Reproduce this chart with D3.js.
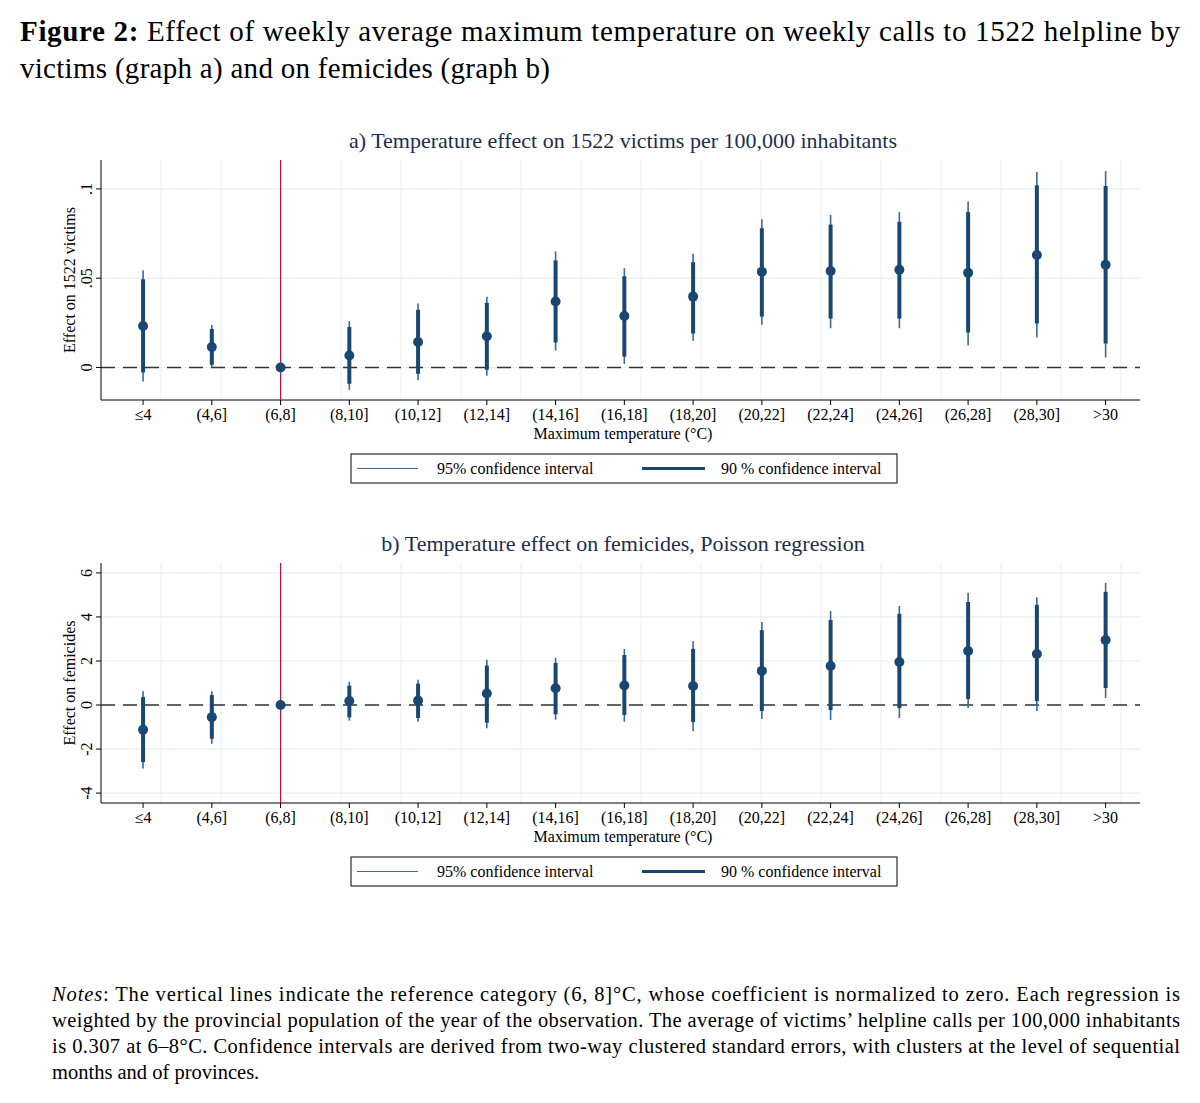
<!DOCTYPE html>
<html><head><meta charset="utf-8">
<script src="https://cdn.jsdelivr.net/npm/d3@7"></script>
<style>body{margin:0;background:#fff;font-family:"Liberation Serif","Times New Roman",serif}</style>
</head><body>
<svg id="c" width="1200" height="1103"></svg>
<script>
const categories=["≤4","(4,6]","(6,8]","(8,10]","(10,12]","(12,14]","(14,16]","(16,18]","(18,20]","(20,22]","(22,24]","(24,26]","(26,28]","(28,30]",">30"];
// Panel a
const aEst=[0.0232,0.0115,0,0.0067,0.0143,0.0175,0.037,0.0288,0.0397,0.0536,0.054,0.0547,0.053,0.063,0.0575];
const aLo90=[-0.0028,0.0015,0,-0.0091,-0.0035,-0.0013,0.014,0.0061,0.019,0.0285,0.0274,0.0274,0.0196,0.0246,0.0134];
const aHi90=[0.0494,0.0216,0,0.0227,0.0323,0.0362,0.060,0.0511,0.059,0.078,0.080,0.0816,0.087,0.102,0.1017];
const aLo95=[-0.0078,0.0002,0,-0.0125,-0.0072,-0.0046,0.0095,0.002,0.015,0.024,0.022,0.022,0.0123,0.0168,0.0056];
const aHi95=[0.0545,0.0238,0,0.026,0.0359,0.0396,0.065,0.0556,0.0637,0.083,0.0855,0.087,0.093,0.1095,0.11];
const aTicks=[0,0.05,0.1], aTickLabels=["0",".05",".1"];
// Panel b
const bEst=[-1.12,-0.55,0,0.18,0.2,0.52,0.76,0.89,0.86,1.55,1.77,1.95,2.45,2.32,2.95];
const bLo90=[-2.59,-1.53,0,-0.56,-0.59,-0.8,-0.42,-0.45,-0.77,-0.27,-0.23,-0.14,0.27,0.18,0.77];
const bHi90=[0.36,0.45,0,0.88,0.97,1.79,1.91,2.27,2.55,3.4,3.86,4.14,4.68,4.55,5.14];
const bLo95=[-2.88,-1.76,0,-0.71,-0.76,-1.06,-0.67,-0.76,-1.18,-0.64,-0.68,-0.59,-0.14,-0.27,0.32];
const bHi95=[0.62,0.62,0,1.06,1.15,2.06,2.15,2.55,2.9,3.77,4.27,4.5,5.1,4.9,5.55];
const bTicks=[-4,-2,0,2,4,6], bTickLabels=["-4","-2","0","2","4","6"];

const svg=d3.select("#c");
const navy="#1a476f";
const serif='"Liberation Serif","Times New Roman",serif';

// header
const h=svg.append("text").attr("x",20).attr("y",41).attr("font-size",29).attr("font-family",serif).attr("textLength",1160).attr("lengthAdjust","spacing");
h.append("tspan").attr("font-weight","bold").text("Figure 2:");
h.append("tspan").text(" Effect of weekly average maximum temperature on weekly calls to 1522 helpline by");
svg.append("text").attr("x",20).attr("y",78).attr("font-size",29).attr("font-family",serif).attr("textLength",530).attr("lengthAdjust","spacing").text("victims (graph a) and on femicides (graph b)");

function panel(cfg){
  const g=svg.append("g");
  const x=d3.scaleLinear().domain([0.49,15.5]).range([108,1140]);
  const y=d3.scaleLinear().domain(cfg.dom).range([cfg.bottom,cfg.top]);
  const L=101,R=1140;
  d3.range(17).forEach(k=>{const gx=161+k*60; if(gx<R) g.append("line").attr("x1",gx).attr("x2",gx).attr("y1",cfg.top).attr("y2",cfg.bottom).attr("stroke","#e6eff1").attr("stroke-width",1);});
  cfg.ticks.forEach(t=>g.append("line").attr("x1",L).attr("x2",R).attr("y1",y(t)).attr("y2",y(t)).attr("stroke","#e6eff1").attr("stroke-width",1.2));
  g.append("line").attr("x1",L).attr("x2",L).attr("y1",cfg.top).attr("y2",cfg.bottom).attr("stroke","#000");
  g.append("line").attr("x1",L).attr("x2",R).attr("y1",cfg.bottom).attr("y2",cfg.bottom).attr("stroke","#000");
  cfg.ticks.forEach((t,i)=>{
    g.append("line").attr("x1",L-5).attr("x2",L).attr("y1",y(t)).attr("y2",y(t)).attr("stroke","#000");
    g.append("text").attr("transform",`translate(${L-9},${y(t)}) rotate(-90)`).attr("text-anchor","middle").attr("font-size",16).attr("font-family",serif).text(cfg.labels[i]);
  });
  g.append("text").attr("transform",`translate(75,${(cfg.top+cfg.bottom)/2}) rotate(-90)`).attr("text-anchor","middle").attr("font-size",16).attr("font-family",serif).text(cfg.ytitle);
  categories.forEach((c,i)=>{
    g.append("line").attr("x1",x(i+1)).attr("x2",x(i+1)).attr("y1",cfg.bottom).attr("y2",cfg.bottom+5).attr("stroke","#000");
    g.append("text").attr("x",x(i+1)).attr("y",cfg.bottom+20).attr("text-anchor","middle").attr("font-size",16).attr("font-family",serif).text(c);
  });
  g.append("text").attr("x",623).attr("y",cfg.bottom+39).attr("text-anchor","middle").attr("font-size",16).attr("font-family",serif).text("Maximum temperature (°C)");
  g.append("text").attr("x",623).attr("y",cfg.top-12).attr("text-anchor","middle").attr("font-size",22).attr("fill","#1c2e4f").attr("font-family",serif).text(cfg.title);
  g.append("line").attr("x1",x(3)).attr("x2",x(3)).attr("y1",cfg.top).attr("y2",cfg.bottom).attr("stroke","#d0103a").attr("stroke-width",1.2);
  g.append("line").attr("x1",L).attr("x2",R).attr("y1",y(0)).attr("y2",y(0)).attr("stroke","#333").attr("stroke-width",1.3).attr("stroke-dasharray","14,8");
  categories.forEach((c,i)=>{
    const cx=x(i+1);
    g.append("line").attr("x1",cx).attr("x2",cx).attr("y1",y(cfg.lo95[i])).attr("y2",y(cfg.hi95[i])).attr("stroke","#3d6a94").attr("stroke-width",1.6);
    g.append("line").attr("x1",cx).attr("x2",cx).attr("y1",y(cfg.lo90[i])).attr("y2",y(cfg.hi90[i])).attr("stroke",navy).attr("stroke-width",4);
    g.append("circle").attr("cx",cx).attr("cy",y(cfg.est[i])).attr("r",5).attr("fill",navy);
  });
  const ly=cfg.bottom+54;
  g.append("rect").attr("x",351).attr("y",ly).attr("width",546).attr("height",29).attr("fill","#fff").attr("stroke","#000");
  g.append("line").attr("x1",357).attr("x2",418).attr("y1",ly+14.5).attr("y2",ly+14.5).attr("stroke","#3d6a94").attr("stroke-width",1.2);
  g.append("text").attr("x",437).attr("y",ly+20).attr("font-size",16).attr("font-family",serif).text("95% confidence interval");
  g.append("line").attr("x1",642).attr("x2",705).attr("y1",ly+14.5).attr("y2",ly+14.5).attr("stroke",navy).attr("stroke-width",3);
  g.append("text").attr("x",721).attr("y",ly+20).attr("font-size",16).attr("font-family",serif).text("90 % confidence interval");
}
panel({dom:[-0.0182,0.1162],top:160,bottom:400,ticks:aTicks,labels:aTickLabels,ytitle:"Effect on 1522 victims",title:"a) Temperature effect on 1522 victims per 100,000 inhabitants",est:aEst,lo90:aLo90,hi90:aHi90,lo95:aLo95,hi95:aHi95});
panel({dom:[-4.45,6.45],top:563,bottom:803,ticks:bTicks,labels:bTickLabels,ytitle:"Effect on femicides",title:"b) Temperature effect on femicides, Poisson regression",est:bEst,lo90:bLo90,hi90:bHi90,lo95:bLo95,hi95:bHi95});

const notes=["weighted by the provincial population of the year of the observation. The average of victims’ helpline calls per 100,000 inhabitants","is 0.307 at 6–8°C. Confidence intervals are derived from two-way clustered standard errors, with clusters at the level of sequential","months and of provinces."];
const n0=svg.append("text").attr("x",52).attr("y",1001).attr("font-size",20.5).attr("font-family",serif).attr("textLength",1128).attr("lengthAdjust","spacing");
n0.append("tspan").attr("font-style","italic").text("Notes");
n0.append("tspan").text(": The vertical lines indicate the reference category (6, 8]°C, whose coefficient is normalized to zero.  Each regression is");
notes.forEach((t,i)=>{const e=svg.append("text").attr("x",52).attr("y",1027+i*26).attr("font-size",20.5).attr("font-family",serif).text(t); if(i<2) e.attr("textLength",1128).attr("lengthAdjust","spacing");});
</script>
</body></html>
